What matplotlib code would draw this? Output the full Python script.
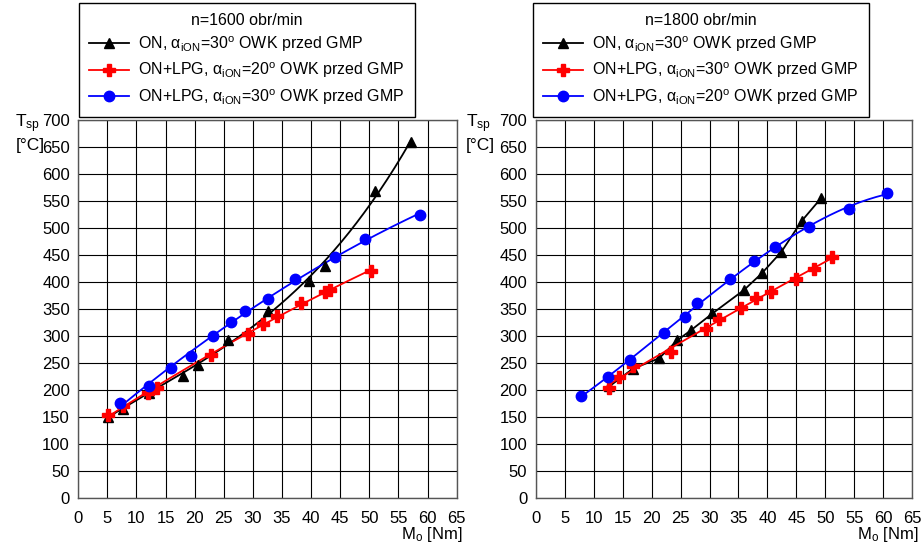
import numpy as np
import matplotlib.pyplot as plt

plt.rcParams['font.family'] = ['Liberation Sans', 'DejaVu Sans']
plt.rcParams['mathtext.fontset'] = 'custom'
plt.rcParams['mathtext.rm'] = 'Liberation Sans'
plt.rcParams['mathtext.it'] = 'Liberation Sans:italic'
plt.rcParams['font.size'] = 12

# n=1600 obr/min
on_1600_x = [5.1, 7.6, 12.2, 18.0, 20.6, 25.7, 32.6, 39.6, 42.4, 50.9, 57.2]
on_1600_y = [151, 166, 195, 227, 247, 293, 347, 402, 429, 568, 659]
lpg20_1600_x = [5.1, 7.6, 12.0, 13.5, 22.8, 29.2, 31.7, 34.2, 38.2, 42.4, 43.2, 50.2]
lpg20_1600_y = [154, 170, 194, 205, 266, 304, 323, 337, 361, 381, 386, 420]
lpg30_1600_x = [7.1, 12.1, 16.0, 19.4, 23.2, 26.3, 28.6, 32.6, 37.3, 44.1, 49.3, 58.7]
lpg30_1600_y = [177, 207, 242, 264, 301, 327, 346, 369, 406, 447, 480, 524]

# n=1800 obr/min
on_1800_x = [12.7, 16.8, 21.3, 24.4, 26.8, 30.5, 35.9, 39.0, 42.4, 45.9, 49.3]
on_1800_y = [207, 240, 259, 292, 311, 342, 385, 416, 456, 513, 556]
lpg30_1800_x = [12.7, 14.4, 16.8, 23.4, 29.4, 31.6, 35.5, 38.0, 40.6, 44.9, 48.0, 51.2]
lpg30_1800_y = [205, 225, 245, 271, 314, 332, 353, 370, 382, 406, 424, 447]
lpg20_1800_x = [7.75, 12.4, 16.3, 22.2, 25.7, 27.8, 33.6, 37.6, 41.3, 47.2, 54.0, 60.6]
lpg20_1800_y = [189, 224, 255, 306, 336, 361, 405, 440, 465, 502, 536, 565]

x_ticks = np.arange(0, 66, 5)
y_ticks = np.arange(0, 701, 50)

fig = plt.figure(figsize=(9.22, 5.46), dpi=100)
ax1 = fig.add_axes([0.0849, 0.0874, 0.4104, 0.6928])
ax2 = fig.add_axes([0.5810, 0.0874, 0.4085, 0.6928])


def alpha_label(prefix, angle):
    return prefix + ', α$_{\\rm iON}$=' + str(angle) + '$^{\\rm o}$ OWK przed GMP'


def setup(ax):
    ax.set_xlim(0, 65)
    ax.set_ylim(0, 700)
    ax.set_xticks(x_ticks)
    ax.set_yticks(y_ticks)
    ax.grid(True, color='black', lw=0.8)
    ax.set_axisbelow(True)
    ax.tick_params(length=0, labelsize=12)
    ax.tick_params(axis='x', pad=9)
    ax.tick_params(axis='y', pad=6)
    for s in ax.spines.values():
        s.set_color('#555555')
        s.set_linewidth(1.0)


def trend(ax, x, y, color, deg):
    # smooth trend line through the measured points
    p = np.polyfit(x, y, deg)
    xs = np.linspace(min(x), max(x), 200)
    ax.plot(xs, np.polyval(p, xs), color=color, lw=1.3)


def handles(ax):
    return [ax.plot([], [], color='black', marker='^', ms=7, lw=1.3)[0],
            ax.plot([], [], color='red', marker='P', ms=8, lw=1.3)[0],
            ax.plot([], [], color='blue', marker='o', ms=7.5, lw=1.3)[0]]


# left plot
setup(ax1)
trend(ax1, on_1600_x, on_1600_y, 'black', 3)
trend(ax1, lpg20_1600_x, lpg20_1600_y, 'red', 2)
trend(ax1, lpg30_1600_x, lpg30_1600_y, 'blue', 2)
ax1.plot(on_1600_x, on_1600_y, ls='none', marker='^', ms=7, color='black')
ax1.plot(lpg20_1600_x, lpg20_1600_y, ls='none', marker='P', ms=8, color='red')
ax1.plot(lpg30_1600_x, lpg30_1600_y, ls='none', marker='o', ms=7.5, color='blue')
h1 = handles(ax1)
labels1 = [alpha_label('ON', 30), alpha_label('ON+LPG', 20), alpha_label('ON+LPG', 30)]

# right plot
setup(ax2)
ax2.plot(on_1800_x, on_1800_y, color='black', marker='^', ms=7, lw=1.3)
trend(ax2, lpg30_1800_x, lpg30_1800_y, 'red', 2)
ax2.plot(lpg30_1800_x, lpg30_1800_y, ls='none', marker='P', ms=8, color='red')
trend(ax2, lpg20_1800_x, lpg20_1800_y, 'blue', 3)
ax2.plot(lpg20_1800_x, lpg20_1800_y, ls='none', marker='o', ms=7.5, color='blue')
h2 = handles(ax2)
labels2 = [alpha_label('ON', 30), alpha_label('ON+LPG', 30), alpha_label('ON+LPG', 20)]

for h, lab, title, x0 in [(h1, labels1, 'n=1600 obr/min', 0.0857),
                          (h2, labels2, 'n=1800 obr/min', 0.5781)]:
    leg = fig.legend(h, lab, title=title, loc='lower left',
                     bbox_to_anchor=(x0, 0.786), bbox_transform=fig.transFigure,
                     fancybox=False, edgecolor='black', framealpha=1,
                     handlelength=2.5, handletextpad=0.6, labelspacing=0.43,
                     borderpad=0.62, borderaxespad=0, fontsize=11.5,
                     title_fontsize=11.5)
    leg.get_frame().set_linewidth(1.0)

for ax, off in [(ax1, 63), (ax2, 70)]:
    pos = ax.get_position()
    xl = pos.x0 - off / 922
    fig.text(xl, 0.773, r'T$_{\rm sp}$', ha='left', va='center', fontsize=12.5)
    fig.text(xl, 0.733, '[°C]', ha='left', va='center', fontsize=12.5)
    fig.text(pos.x1 + 6 / 922, 0.003, r'M$_{\rm o}$ [Nm]', ha='right', va='bottom', fontsize=12)

fig.savefig('out.png', dpi=100)
